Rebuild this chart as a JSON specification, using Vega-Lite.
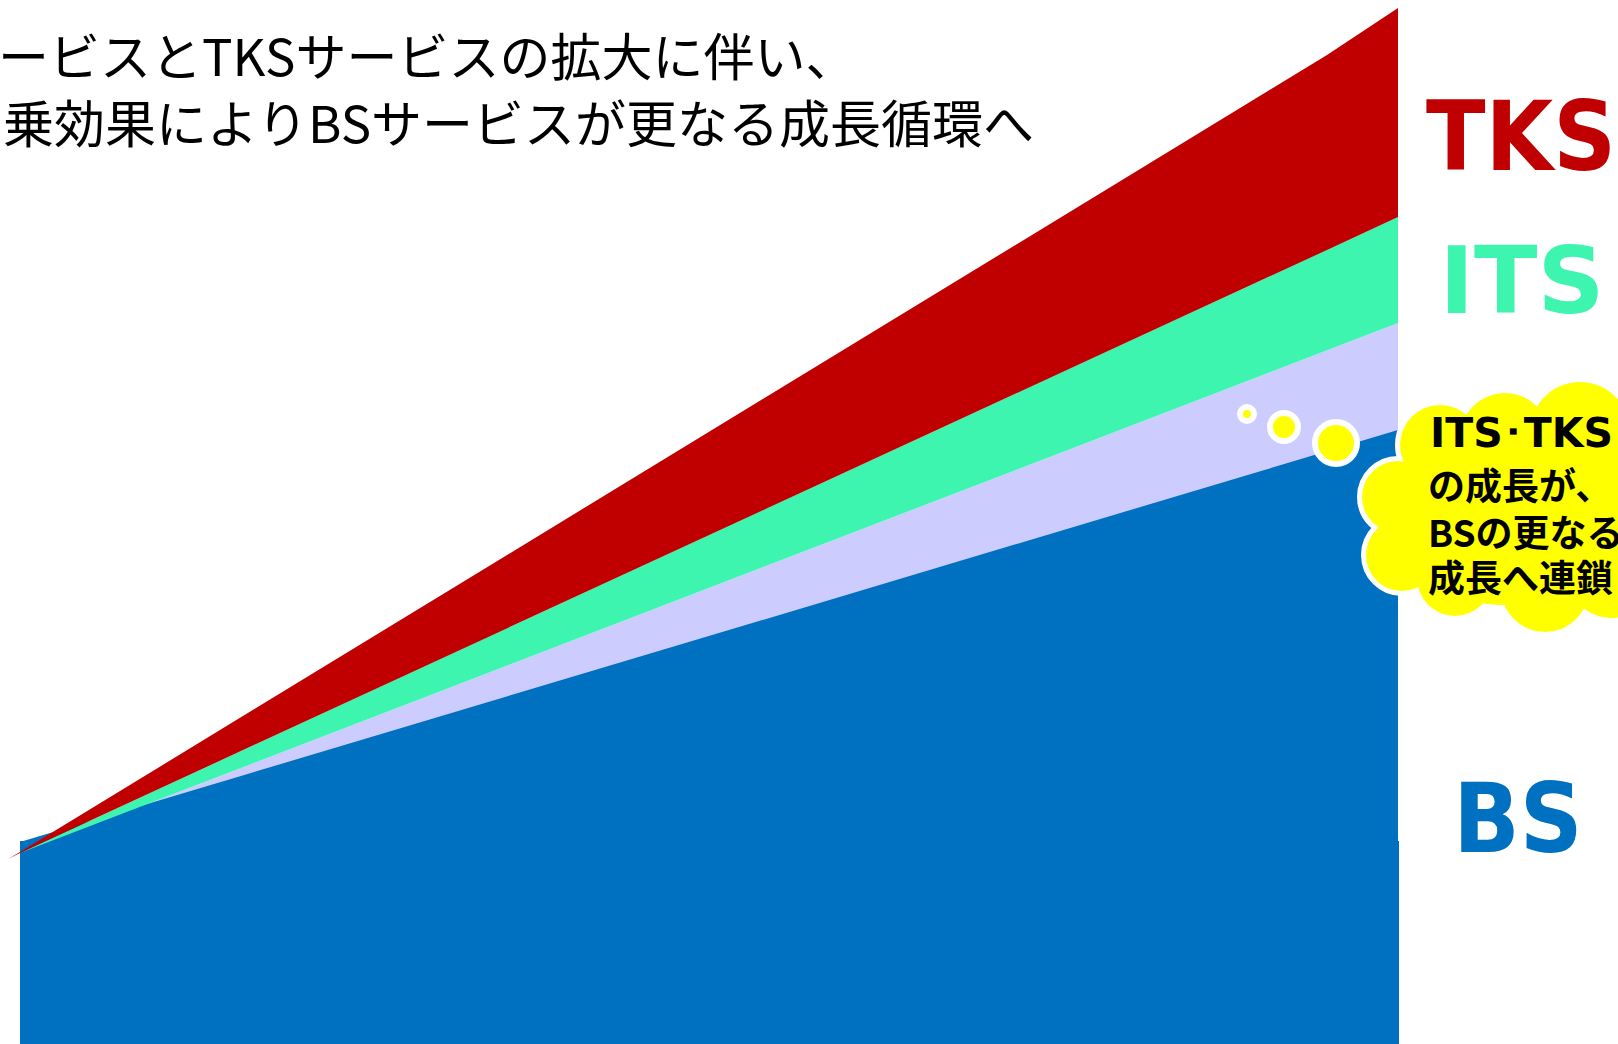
{
  "$schema": "https://vega.github.io/schema/vega-lite/v6.json",
  "width": 1618,
  "height": 1044,
  "autosize": "none",
  "padding": 0,
  "background": "white",
  "config": {"view": {"stroke": null}},
  "datasets": {
    "base": [
      {"series": "BS", "t": 20, "top": 203, "bottom": 0},
      {"series": "BS", "t": 1399, "top": 203, "bottom": 0}
    ],
    "lav": [
      {"series": "BS波及", "t": 20, "top": 191, "bottom": 0},
      {"series": "BS波及", "t": 1398, "top": 721, "bottom": 0}
    ],
    "bs": [
      {"series": "BS", "t": 20, "top": 202, "bottom": 0},
      {"series": "BS", "t": 1398, "top": 614, "bottom": 0}
    ],
    "its": [
      {"series": "ITS", "t": 20, "top": 191, "bottom": 191},
      {"series": "ITS", "t": 1398, "top": 827, "bottom": 721}
    ],
    "tks": [
      {"series": "TKS", "t": 8, "top": 185, "bottom": 185},
      {"series": "TKS", "t": 20, "top": 192, "bottom": 191},
      {"series": "TKS", "t": 1327, "top": 989, "bottom": 794},
      {"series": "TKS", "t": 1398, "top": 1036, "bottom": 827}
    ],
    "bubbles": [
      {"cx": 1247, "cy": 630, "r": 7},
      {"cx": 1284, "cy": 617, "r": 14},
      {"cx": 1336, "cy": 601, "r": 21}
    ],
    "cloud": [
      {"cx": 1440, "cy": 599, "r": 40},
      {"cx": 1505, "cy": 606, "r": 45},
      {"cx": 1580, "cy": 612, "r": 50},
      {"cx": 1398, "cy": 547, "r": 36},
      {"cx": 1402, "cy": 489, "r": 36},
      {"cx": 1455, "cy": 466, "r": 38},
      {"cx": 1545, "cy": 456, "r": 44},
      {"cx": 1612, "cy": 472, "r": 46},
      {"cx": 1610, "cy": 540, "r": 60},
      {"cx": 1500, "cy": 529, "r": 90}
    ],
    "title": [
      {"t": -2, "v": 968, "text": "ービスとTKSサービスの拡大に伴い、"},
      {"t": 3, "v": 901, "text": "乗効果によりBSサービスが更なる成長循環へ"}
    ],
    "names": [
      {"t": 1521, "v": 874, "text": "TKS", "series": "TKS"},
      {"t": 1518, "v": 192, "text": "BS", "series": "BS"}
    ],
    "itsName": [
      {"t": 1522, "v": 731, "text": "ITS", "series": "ITS"}
    ],
    "cloudHead": [
      {"t": 1430, "v": 597, "text": "ITS･TKS"}
    ],
    "cloudText": [
      {"t": 1428, "v": 544, "text": "の成長が、"},
      {"t": 1428, "v": 497, "text": "BSの更なる"},
      {"t": 1428, "v": 452, "text": "成長へ連鎖"}
    ]
  },
  "layer": [
    {
      "data": {"name": "base"},
      "mark": {"type": "area", "color": "#0070C0"},
      "encoding": {
        "x": {"field": "t", "type": "quantitative", "scale": {"domain": [0, 1618], "nice": false, "zero": false}, "axis": null},
        "y": {"field": "top", "type": "quantitative", "scale": {"domain": [0, 1044], "nice": false}, "axis": null},
        "y2": {"field": "bottom"}
      }
    },
    {
      "data": {"name": "lav"},
      "mark": {"type": "area", "color": "#CCCCFF"},
      "encoding": {
        "x": {"field": "t", "type": "quantitative"},
        "y": {"field": "top", "type": "quantitative"},
        "y2": {"field": "bottom"}
      }
    },
    {
      "data": {"name": "bs"},
      "mark": {"type": "area", "color": "#0070C0"},
      "encoding": {
        "x": {"field": "t", "type": "quantitative"},
        "y": {"field": "top", "type": "quantitative"},
        "y2": {"field": "bottom"}
      }
    },
    {
      "data": {"name": "its"},
      "mark": {"type": "area", "color": "#3EF5B0"},
      "encoding": {
        "x": {"field": "t", "type": "quantitative"},
        "y": {"field": "top", "type": "quantitative"},
        "y2": {"field": "bottom"}
      }
    },
    {
      "data": {"name": "tks"},
      "mark": {"type": "area", "color": "#C00000"},
      "encoding": {
        "x": {"field": "t", "type": "quantitative"},
        "y": {"field": "top", "type": "quantitative"},
        "y2": {"field": "bottom"}
      }
    },
    {
      "data": {"name": "bubbles"},
      "mark": {"type": "circle", "color": "#FFFF00", "opacity": 1, "stroke": "white", "strokeWidth": 6},
      "encoding": {
        "x": {"field": "cx", "type": "quantitative"},
        "y": {"field": "cy", "type": "quantitative"},
        "size": {"field": "r", "type": "quantitative", "scale": {"type": "pow", "exponent": 2, "domain": [0, 100], "range": [0, 40000], "nice": false}, "legend": null}
      }
    },
    {
      "data": {"name": "cloud"},
      "mark": {"type": "circle", "color": "white", "opacity": 1, "stroke": "white", "strokeWidth": 10},
      "encoding": {
        "x": {"field": "cx", "type": "quantitative"},
        "y": {"field": "cy", "type": "quantitative"},
        "size": {"field": "r", "type": "quantitative", "legend": null}
      }
    },
    {
      "data": {"name": "cloud"},
      "mark": {"type": "circle", "color": "#FFFF00", "opacity": 1},
      "encoding": {
        "x": {"field": "cx", "type": "quantitative"},
        "y": {"field": "cy", "type": "quantitative"},
        "size": {"field": "r", "type": "quantitative", "legend": null}
      }
    },
    {
      "data": {"name": "title"},
      "mark": {"type": "text", "align": "left", "baseline": "alphabetic", "font": "Noto Sans CJK JP", "fontSize": 51, "fontWeight": "normal", "color": "black"},
      "encoding": {
        "x": {"field": "t", "type": "quantitative"},
        "y": {"field": "v", "type": "quantitative"},
        "text": {"field": "text"}
      }
    },
    {
      "data": {"name": "names"},
      "mark": {"type": "text", "align": "center", "baseline": "alphabetic", "font": "DejaVu Sans Condensed", "fontSize": 97, "fontWeight": "bold"},
      "encoding": {
        "x": {"field": "t", "type": "quantitative"},
        "y": {"field": "v", "type": "quantitative"},
        "text": {"field": "text"},
        "color": {"field": "series", "type": "nominal", "scale": {"domain": ["TKS", "ITS", "BS"], "range": ["#C00000", "#3EF5B0", "#0070C0"]}, "legend": null}
      }
    },
    {
      "data": {"name": "itsName"},
      "mark": {"type": "text", "align": "center", "baseline": "alphabetic", "font": "DejaVu Sans", "fontSize": 93, "fontWeight": "bold"},
      "encoding": {
        "x": {"field": "t", "type": "quantitative"},
        "y": {"field": "v", "type": "quantitative"},
        "text": {"field": "text"},
        "color": {"field": "series", "type": "nominal", "legend": null}
      }
    },
    {
      "data": {"name": "cloudHead"},
      "mark": {"type": "text", "align": "left", "baseline": "alphabetic", "font": "DejaVu Sans", "fontSize": 41, "fontWeight": "bold", "color": "black"},
      "encoding": {
        "x": {"field": "t", "type": "quantitative"},
        "y": {"field": "v", "type": "quantitative"},
        "text": {"field": "text"}
      }
    },
    {
      "data": {"name": "cloudText"},
      "mark": {"type": "text", "align": "left", "baseline": "alphabetic", "font": "Noto Sans CJK JP", "fontSize": 37, "fontWeight": "bold", "color": "black"},
      "encoding": {
        "x": {"field": "t", "type": "quantitative"},
        "y": {"field": "v", "type": "quantitative"},
        "text": {"field": "text"}
      }
    }
  ]
}
